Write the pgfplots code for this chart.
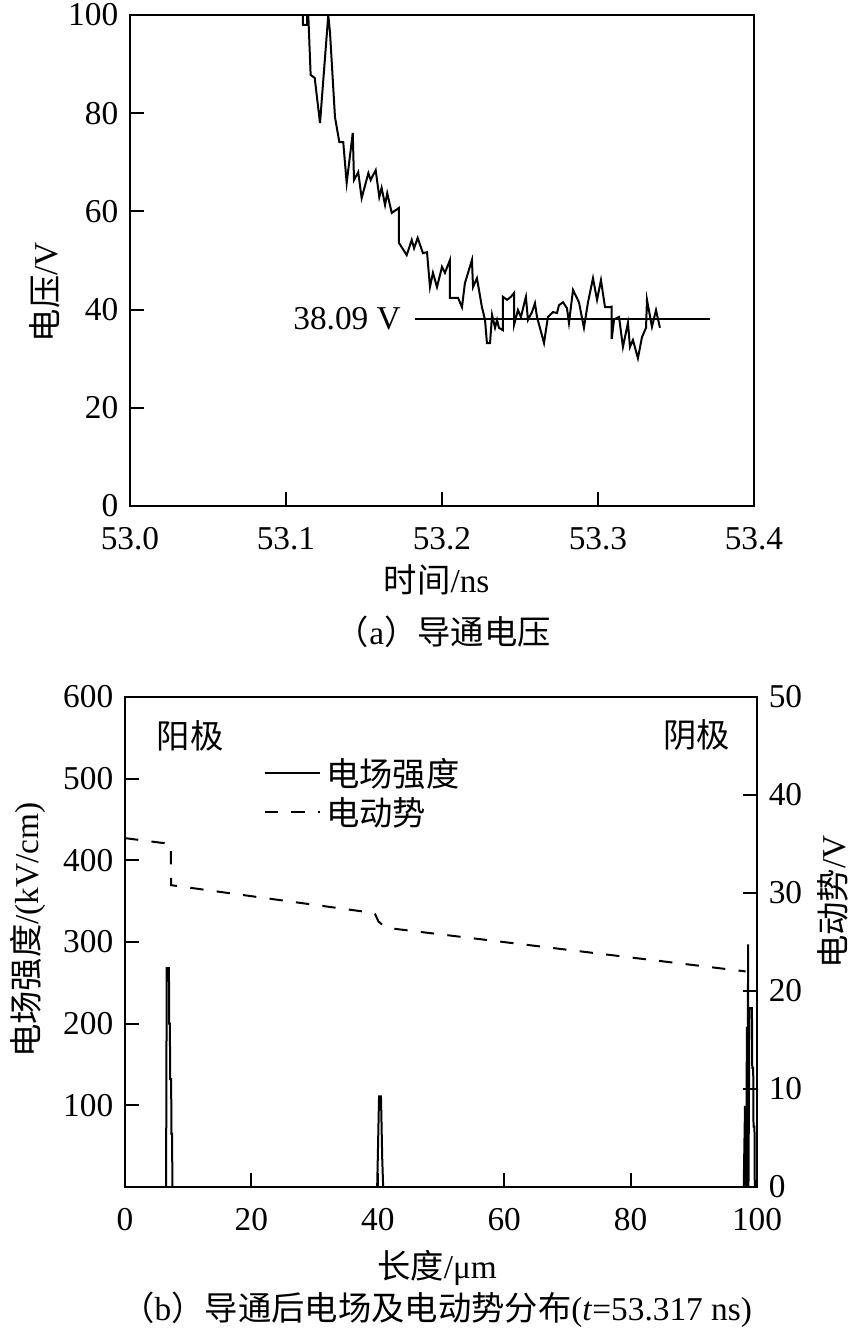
\documentclass[border=0pt]{standalone}
\usepackage{fontspec}
\setmainfont{Liberation Serif}
\newfontfamily\cjk{Noto Sans CJK SC}
\usepackage{pgfplots}
\pgfplotsset{compat=1.18}

% shared look of both panels
\pgfplotsset{
  panel/.style={
    scale only axis,
    anchor=north west,
    tick align=inside,
    major tick length=4.2pt,
    axis line style={line width=0.6pt},
    every tick/.style={black, line width=0.6pt},
    /pgf/number format/assume math mode=true,
    xtick pos=left,
    xticklabel style={yshift=-3pt},
  },
}

\begin{document}
\begin{tikzpicture}
\useasboundingbox (0,0) rectangle (258.9pt,-399.9pt);

% ---------- (a) turn-on voltage ----------
\begin{axis}[panel, at={(39pt,-4.5pt)}, width=187.2pt, height=147.3pt,
  xmin=53, xmax=53.4, ymin=0, ymax=100,
  xtick={53.0,53.1,53.2,53.3,53.4}, ytick={0,20,...,100}, ytick pos=left,
  scaled x ticks=false,
  xticklabel style={/pgf/number format/.cd, fixed, fixed zerofill, precision=1}]
\addplot[black, line width=0.6pt] coordinates {
  (53.1105,105) (53.1109,98) (53.1135,98) (53.1138,104) (53.1158,87.8)
  (53.1184,87.2) (53.1218,78.0) (53.1271,100) (53.1282,96.5) (53.1314,79.2)
  (53.1342,74.1) (53.1367,74.1) (53.1389,65.8) (53.1428,76.0) (53.1436,66.4)
  (53.1463,68.0) (53.1485,62.7) (53.1528,67.8) (53.1543,66.4) (53.1575,68.4)
  (53.1598,62.9) (53.1613,64.8) (53.1635,61.3) (53.1649,63.7) (53.1678,59.7)
  (53.1724,60.7) (53.1724,53.6) (53.1774,51.1) (53.1806,54.2) (53.1821,52.5)
  (53.1844,54.6) (53.1878,51.5) (53.1904,51.7) (53.1923,44.6) (53.1942,47.5)
  (53.1968,44.6) (53.2000,48.7) (53.2019,47.5) (53.2051,50.1) (53.2051,42.4)
  (53.2103,42.4) (53.2128,40.5) (53.2147,45.4) (53.2192,50.1) (53.2199,44.6)
  (53.2224,46.4) (53.2256,40.5) (53.2276,37.9) (53.2288,33.2) (53.2308,33.2)
  (53.2321,38.9) (53.2340,36.3) (53.2353,37.9) (53.2365,36.3) (53.2391,35.8)
  (53.2391,42.6) (53.2417,42.0) (53.2442,42.6) (53.2462,43.4) (53.2462,36.9)
  (53.2487,39.9) (53.2506,38.5) (53.2538,42.6) (53.2551,37.9) (53.2577,39.5)
  (53.2596,41.3) (53.2609,38.5) (53.2654,33.2) (53.2679,38.5) (53.2712,39.5)
  (53.2737,39.3) (53.2750,40.9) (53.2776,41.5) (53.2801,40.3) (53.2814,37.3)
  (53.2840,44.0) (53.2878,41.5) (53.2910,36.3) (53.2936,41.5) (53.2968,46.4)
  (53.2994,42.0) (53.3019,46.0) (53.3045,40.5) (53.3077,40.5) (53.3088,40.6)
  (53.3088,34.0) (53.3103,38.0) (53.3135,38.5) (53.3160,32.4) (53.3192,37.3)
  (53.3205,32.4) (53.3224,33.8) (53.3256,30.1) (53.3282,34.4) (53.3308,36.3)
  (53.3314,42.0) (53.3346,36.5) (53.3372,39.9) (53.3397,36.3)
};
\addplot[black, line width=0.6pt] coordinates {(53.1827,38.09) (53.3718,38.09)};
\node[anchor=east, inner sep=0pt] at (axis cs:53.1740,38.09) {38.09 V};
\end{axis}

\node[rotate=90] at (13.5pt,-87.6pt) {{\cjk 电压}/V};
\node at (131pt,-174pt) {{\cjk 时间}/ns};
\node at (133pt,-189.6pt) {{\cjk （}a{\cjk ）导通电压}};

% ---------- (b) field and EMF ----------
\begin{axis}[panel, at={(37.5pt,-209.1pt)}, width=189.6pt, height=147pt,
  xmin=0, xmax=100, ymin=0, ymax=600,
  xtick={0,20,...,100}, ytick={100,200,...,600}, ytick pos=left]
\addplot[black, line width=0.6pt] coordinates {
  (0,0) (6.5,0) (6.6,268) (6.95,268) (7.0,200) (7.1,200) (7.15,132) (7.3,132)
  (7.35,65) (7.45,65) (7.5,0) (39.9,0) (40.0,35) (40.1,74) (40.2,111) (40.5,111)
  (40.6,74) (40.7,35) (40.85,0) (97.9,0) (98.1,98) (98.25,98) (98.3,0) (98.4,196)
  (98.45,0) (98.6,297) (98.65,0) (98.8,219) (99.2,219) (99.25,146) (99.4,146)
  (99.45,74) (99.6,74) (99.65,0) (100,0)
};
\node at (axis cs:10.3,553) {\cjk 阳极};
\node at (axis cs:90.5,553) {\cjk 阴极};
\end{axis}

\begin{axis}[panel, at={(37.5pt,-209.1pt)}, width=189.6pt, height=147pt,
  xmin=0, xmax=100, ymin=0, ymax=50, hide x axis,
  ytick={0,10,...,50}, ytick pos=right, yticklabel pos=right,
  legend cell align=left,
  legend style={draw=none, fill=none, inner sep=0pt,
    at={(0.2184,0.8816)}, anchor=north west,
    nodes={inner sep=1.6pt, text height=7.5pt, text depth=1pt}},
  legend image code/.code={\draw[#1] (0pt,0.8pt) -- (16.5pt,0.8pt);}]
\addlegendimage{black, line width=0.6pt}
\addlegendentry{\cjk 电场强度}
\addplot[black, line width=0.6pt, dash pattern=on 4pt off 4pt] coordinates {
  (0,35.6) (7.25,35.0) (7.3,30.8) (39.5,27.95) (40.1,27.1) (41,26.6) (42,26.4) (98.2,22.0)
};
\addlegendentry{\cjk 电动势}
\end{axis}

\node[rotate=90] at (8.4pt,-279pt) {{\cjk 电场强度}/(kV/cm)};
\node[rotate=90] at (249.9pt,-270.6pt) {{\cjk 电动势}/V};
\node at (131.1pt,-380.4pt) {{\cjk 长度}/μm};
\node at (131pt,-393pt) {{\cjk （}b{\cjk ）导通后电场及电动势分布}(\textit{t}=53.317 ns)};
\end{tikzpicture}
\end{document}
